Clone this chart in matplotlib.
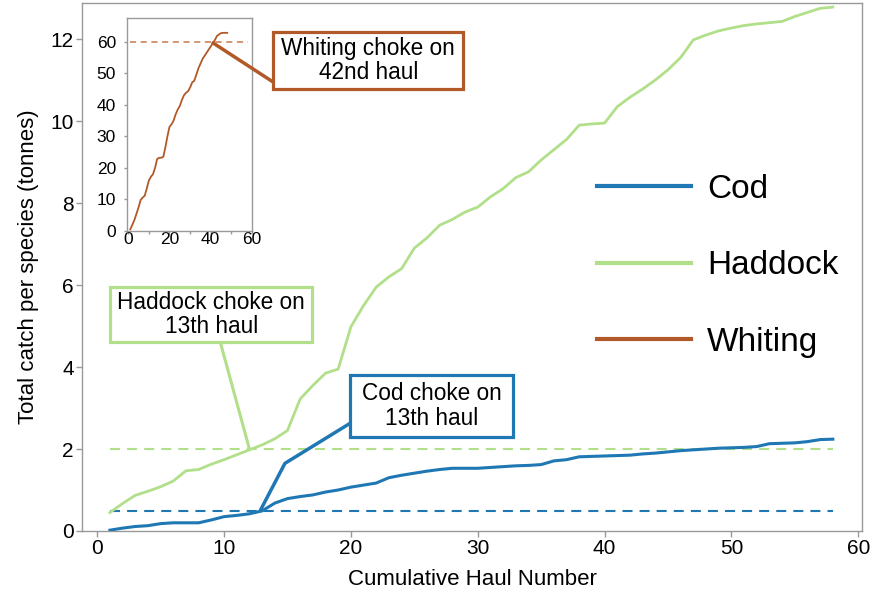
import matplotlib
matplotlib.use('Agg')
import matplotlib.pyplot as plt
from matplotlib.patches import Rectangle, ConnectionPatch
from matplotlib.lines import Line2D

plt.rcParams['font.family'] = ['Liberation Sans', 'DejaVu Sans']

# Cumulative catch per haul (tonnes)
hauls = list(range(1, 59))
cod = [0.02, 0.07, 0.11, 0.13, 0.18, 0.20, 0.20, 0.20, 0.27, 0.35,
       0.38, 0.42, 0.49, 0.68, 0.79, 0.84, 0.88, 0.95, 1.00, 1.07,
       1.12, 1.17, 1.30, 1.36, 1.41, 1.46, 1.50, 1.53, 1.53, 1.53,
       1.55, 1.57, 1.59, 1.60, 1.62, 1.71, 1.74, 1.81, 1.82, 1.83,
       1.84, 1.85, 1.88, 1.90, 1.93, 1.96, 1.98, 2.00, 2.02, 2.03,
       2.04, 2.06, 2.13, 2.14, 2.15, 2.18, 2.23, 2.24]
haddock = [0.45, 0.67, 0.87, 0.97, 1.08, 1.22, 1.47, 1.50, 1.63, 1.74,
           1.86, 1.98, 2.10, 2.25, 2.45, 3.22, 3.55, 3.85, 3.95, 4.98,
           5.50, 5.95, 6.20, 6.40, 6.90, 7.15, 7.46, 7.60, 7.78, 7.90,
           8.15, 8.35, 8.62, 8.76, 9.05, 9.30, 9.55, 9.90, 9.93, 9.95,
           10.35, 10.58, 10.78, 11.00, 11.25, 11.55, 11.98, 12.10, 12.20, 12.27,
           12.33, 12.37, 12.40, 12.43, 12.55, 12.65, 12.75, 12.78]
whiting_hauls = list(range(1, 49))
whiting = [0.5, 2.0, 3.5, 5.5, 7.5, 9.8, 10.6, 11.2, 13.5, 16.0,
           17.2, 18.0, 20.0, 22.8, 23.2, 23.2, 23.5, 26.5, 30.0, 33.0,
           33.8, 35.0, 37.0, 38.5, 39.6, 41.5, 43.0, 43.8, 44.3, 45.5,
           47.1, 47.6, 49.5, 51.5, 53.0, 54.5, 55.5, 56.5, 57.5, 58.5,
           59.5, 60.5, 61.8, 62.3, 62.7, 62.8, 62.8, 62.8]

# choke limits
cod_limit = 0.5
haddock_limit = 2.0
whiting_limit = 60

c_cod = '#1F78B4'
c_had = '#B2DF8A'
c_whi = '#B15928'
grey = '#999999'

DPI = 100
fig = plt.figure(figsize=(886/DPI, 591/DPI), dpi=DPI)
ax = fig.add_axes([82/886, 60/591, 780/886, 528/591])

ax.plot(hauls, haddock, color=c_had, lw=2.0, zorder=3)
ax.plot(hauls, cod, color=c_cod, lw=2.2, zorder=3)
ax.hlines(cod_limit, hauls[0], hauls[-1], colors=c_cod, lw=1.5,
          linestyles=(0, (4.8, 3.4)), zorder=2)
ax.hlines(haddock_limit, hauls[0], hauls[-1], colors=c_had, lw=1.5,
          linestyles=(0, (4.8, 3.4)), zorder=2)

ax.set_xlim(-1.2, 60.3)
ax.set_ylim(0, 12.88)
ax.set_xticks([0, 10, 20, 30, 40, 50, 60])
ax.set_yticks([0, 2, 4, 6, 8, 10, 12])
ax.tick_params(labelsize=15, length=4, width=1, color=grey, pad=2)
for s in ax.spines.values():
    s.set_color(grey)
    s.set_linewidth(1)
ax.set_xlabel('Cumulative Haul Number', fontsize=16, labelpad=8)
ax.set_ylabel('Total catch per species (tonnes)', fontsize=16, labelpad=8)

# legend
handles = [Line2D([], [], color=c, lw=3) for c in (c_cod, c_had, c_whi)]
ax.legend(handles, ['Cod', 'Haddock', 'Whiting'], loc='center left',
          bbox_to_anchor=(597/886, 1 - 266/591), bbox_transform=fig.transFigure,
          frameon=False, fontsize=24, handlelength=2.82, handletextpad=0.48,
          labelspacing=1.36, borderpad=0, borderaxespad=0)

# annotation boxes (data coords of main axes)
def box(x0, x1, y0, y1, color, text):
    ax.add_patch(Rectangle((x0, y0), x1 - x0, y1 - y0, facecolor='white',
                           edgecolor=color, lw=2.3, zorder=6, clip_on=False))
    ax.text((x0 + x1) / 2, (y0 + y1) / 2, text, ha='center', va='center',
            fontsize=16.3, zorder=7, linespacing=1.1)

box(19.95, 32.8, 2.29, 3.80, c_cod, 'Cod choke on\n13th haul')
ax.plot([12.85, 14.8, 19.95], [0.495, 1.65, 2.63], color=c_cod, lw=2.5,
        zorder=5, solid_capstyle='butt')
box(1.03, 16.96, 4.61, 5.95, c_had, 'Haddock choke on\n13th haul')
ax.plot([9.7, 12.0], [4.61, 2.0], color=c_had, lw=2.2, zorder=5)
box(13.88, 28.86, 10.78, 12.17, c_whi, 'Whiting choke on\n42nd haul')

# inset for whiting
ins = fig.add_axes([127/886, 1 - 231/591, 125/886, 213/591])
ins.plot(whiting_hauls, whiting, color=c_whi, lw=1.3)
ins.hlines(whiting_limit, hauls[0], hauls[-1], colors=c_whi, lw=1.1,
           linestyles=(0, (4, 3)), alpha=0.8)
ins.set_xlim(-0.6, 60)
ins.set_ylim(0, 67.5)
ins.set_xticks([0, 10, 20, 30, 40, 50, 60])
ins.set_xticklabels(['0', '', '20', '', '40', '', '60'])
ins.set_yticks([0, 10, 20, 30, 40, 50, 60])
ins.tick_params(axis='both', labelsize=12.5, length=2, width=1, color=grey)
ins.tick_params(axis='x', pad=-1)
ins.tick_params(axis='y', pad=6)
for s in ins.spines.values():
    s.set_color(grey)
    s.set_linewidth(1)

con = ConnectionPatch(xyA=(41.1, 59.6), coordsA=ins.transData,
                      xyB=(13.88, 10.95), coordsB=ax.transData,
                      color=c_whi, lw=2.5, zorder=8)
fig.add_artist(con)

fig.savefig('out.png', dpi=DPI)
